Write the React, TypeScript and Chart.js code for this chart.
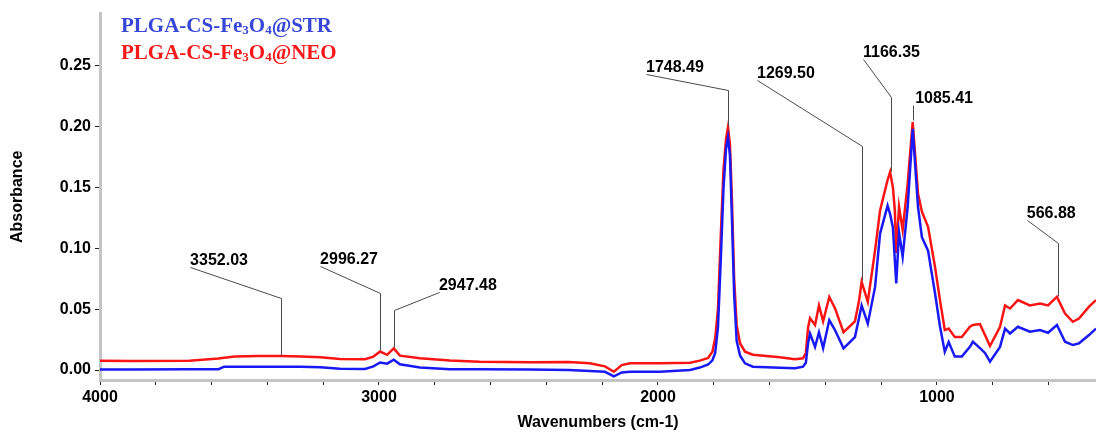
import React, { useEffect, useRef } from "react";
import { Chart, registerables } from "chart.js";

Chart.register(...registerables);

// ---- data ----
const wavenumbers = [
  4000, 3890, 3680, 3575, 3555, 3516, 3430, 3350, 3280, 3210, 3140, 3050, 3020, 2996, 2971, 2947, 2925, 2853,
  2746, 2640, 2460, 2320, 2245, 2190, 2158, 2130, 2100, 1993, 1885, 1850, 1820, 1805, 1795, 1785, 1775, 1765,
  1756, 1749, 1742, 1735, 1727, 1718, 1706, 1688, 1660, 1563, 1509, 1480, 1470, 1462, 1455, 1437, 1423, 1408,
  1386, 1366, 1335, 1294, 1280, 1270, 1248, 1222, 1204, 1177, 1168, 1158, 1151, 1146, 1136, 1123, 1105, 1087,
  1068, 1054, 1032, 1007, 989, 972, 958, 936, 911, 882, 871, 846, 828, 810, 774, 756, 738, 710, 667, 631, 602,
  570, 541, 513, 491, 455, 430,
];

const strAbsorbance = [
  0.0005, 0.0005, 0.0006, 0.0007, 0.0027, 0.0027, 0.0027, 0.0027, 0.0027, 0.0022, 0.001, 0.0008, 0.003, 0.0062,
  0.0052, 0.0085, 0.0047, 0.002, 0.0007, 0.0006, 0.0005, 0.0, -0.0008, -0.0015, -0.0052, -0.002, -0.0014, -0.0014,
  0.0, 0.002, 0.0045, 0.008, 0.014, 0.035, 0.09, 0.15, 0.182, 0.191, 0.176, 0.125, 0.062, 0.024, 0.012, 0.0055,
  0.0027, 0.0019, 0.0014, 0.0027, 0.006, 0.022, 0.03, 0.019, 0.031, 0.018, 0.041, 0.033, 0.0178, 0.027, 0.042,
  0.053, 0.038, 0.068, 0.112, 0.135, 0.128, 0.117, 0.09, 0.071, 0.113, 0.093, 0.134, 0.198, 0.134, 0.109, 0.098,
  0.063, 0.0355, 0.015, 0.023, 0.011, 0.011, 0.019, 0.0232, 0.018, 0.014, 0.0068, 0.019, 0.034, 0.03, 0.0355,
  0.0314, 0.0328, 0.0306, 0.0369, 0.0232, 0.0205, 0.0219, 0.0287, 0.034,
];

const neoAbsorbance = [
  0.0077, 0.0074, 0.0077, 0.0095, 0.01, 0.011, 0.0115, 0.0116, 0.011, 0.0104, 0.009, 0.0088, 0.011, 0.0152,
  0.0125, 0.0178, 0.0118, 0.0096, 0.0078, 0.0068, 0.0064, 0.0065, 0.0055, 0.003, -0.0014, 0.004, 0.0055, 0.0055,
  0.006, 0.0077, 0.01, 0.015, 0.026, 0.05, 0.11, 0.165, 0.19, 0.1995, 0.185, 0.14, 0.075, 0.037, 0.022, 0.015,
  0.0125, 0.0104, 0.0088, 0.0096, 0.014, 0.035, 0.0425, 0.037, 0.053, 0.04, 0.06, 0.051, 0.031, 0.04, 0.056,
  0.0724, 0.056, 0.098, 0.131, 0.156, 0.1626, 0.15, 0.131, 0.096, 0.134, 0.115, 0.153, 0.2035, 0.145, 0.13,
  0.1175, 0.0847, 0.057, 0.0328, 0.034, 0.027, 0.027, 0.0355, 0.037, 0.0377, 0.0287, 0.0197, 0.0355, 0.053,
  0.0505, 0.0574, 0.053, 0.0546, 0.053, 0.06, 0.0464, 0.0396, 0.0423, 0.052, 0.0574,
];

const yTickValues = [0, 0.05, 0.1, 0.15, 0.2, 0.25];
const xTickValues = [4000, 3800, 3600, 3400, 3200, 3000, 2800, 2600, 2400, 2200, 2000, 1800, 1600, 1400, 1200, 1000, 800, 600];
const xLabelValues = [4000, 3000, 2000, 1000];

const peakLabels = ["3352.03", "2996.27", "2947.48", "1748.49", "1269.50", "1166.35", "1085.41", "566.88"];
const peakWavenumbers = [3352.03, 2996.27, 2947.48, 1748.49, 1269.5, 1166.35, 1085.41, 566.88];

const seriesNames = ["PLGA-CS-Fe3O4@STR", "PLGA-CS-Fe3O4@NEO"];

// ---- layout of the annotation leader lines (data units) ----
const leaderLayout = [
  { textWn: 3677, textY: 0.0844, elbowY: 0.059, endY: 0.0123, dx: 0 },
  { textWn: 3211, textY: 0.0852, elbowY: 0.063, endY: 0.0164, dx: 0 },
  { textWn: 2785, textY: 0.064, elbowY: 0.049, endY: 0.0189, dx: 0 },
  { textWn: 2043, textY: 0.2434, elbowY: 0.2295, endY: 0.2, dx: 0 },
  { textWn: 1645, textY: 0.2377, elbowY: 0.1836, endY: 0.0738, dx: 0 },
  { textWn: 1265, textY: 0.255, elbowY: 0.2238, endY: 0.1635, dx: 0 },
  { textWn: 1085.41, textY: 0.2172, elbowY: 0.2172, endY: 0.205, dx: 2 },
  { textWn: 678, textY: 0.123, elbowY: 0.104, endY: 0.0605, dx: 0 },
];

const SANS = "'Liberation Sans', Arial, sans-serif";
const SERIF = "'Liberation Serif', 'Times New Roman', serif";
const BLUE = "rgb(25,25,245)";
const RED = "rgb(250,20,20)";

function drawChemLabel(ctx: CanvasRenderingContext2D, name: string, x: number, y: number, size: number, color: string) {
  // split digits after element symbols into subscripts
  const parts: { t: string; sub: boolean }[] = [];
  const re = /(Fe)(\d)|(O)(\d)/g;
  let last = 0;
  let m: RegExpExecArray | null;
  while ((m = re.exec(name))) {
    const sym = m[1] || m[3];
    const dig = m[2] || m[4];
    parts.push({ t: name.slice(last, m.index) + sym, sub: false });
    parts.push({ t: dig, sub: true });
    last = m.index + m[0].length;
  }
  parts.push({ t: name.slice(last), sub: false });
  ctx.save();
  ctx.fillStyle = color;
  ctx.textBaseline = "alphabetic";
  ctx.textAlign = "left";
  let cx = x;
  for (const p of parts) {
    ctx.font = p.sub ? `bold ${Math.round(size * 0.64)}px ${SERIF}` : `bold ${size}px ${SERIF}`;
    ctx.fillText(p.t, cx, p.sub ? y + size * 0.1 : y);
    cx += ctx.measureText(p.t).width;
  }
  ctx.restore();
}

const overlayPlugin = {
  id: "overlay",
  afterDatasetsDraw(chart: any) {
    const ctx: CanvasRenderingContext2D = chart.ctx;
    const xs = chart.scales.x;
    const ys = chart.scales.y;
    // leader lines + labels
    ctx.save();
    ctx.strokeStyle = "#4a4a4a";
    ctx.lineWidth = 1;
    ctx.fillStyle = "#000";
    ctx.font = `bold 16px ${SANS}`;
    ctx.textBaseline = "alphabetic";
    ctx.textAlign = "left";
    peakLabels.forEach((lab, i) => {
      const L = leaderLayout[i];
      const px = xs.getPixelForValue(peakWavenumbers[i]);
      const sx = xs.getPixelForValue(L.textWn);
      const sy = ys.getPixelForValue(L.textY);
      const ey = ys.getPixelForValue(L.elbowY);
      const by = ys.getPixelForValue(L.endY);
      ctx.beginPath();
      ctx.moveTo(Math.round(sx) + 0.5, Math.round(sy) + 0.5);
      ctx.lineTo(Math.round(px) + 0.5, Math.round(ey) + 0.5);
      ctx.lineTo(Math.round(px) + 0.5, Math.round(by) + 0.5);
      ctx.stroke();
      ctx.fillText(lab, sx + L.dx, sy - 2);
    });
    ctx.restore();
  },
  afterDraw(chart: any) {
    const ctx: CanvasRenderingContext2D = chart.ctx;
    const area = chart.chartArea;
    // axis titles
    ctx.save();
    ctx.fillStyle = "#000";
    ctx.font = `bold 16px ${SANS}`;
    ctx.textAlign = "center";
    ctx.textBaseline = "middle";
    ctx.fillText("Wavenumbers (cm-1)", (area.left + area.right) / 2, 423);
    ctx.translate(18, (area.top + area.bottom) / 2);
    ctx.rotate(-Math.PI / 2);
    ctx.fillText("Absorbance", 0, 0);
    ctx.restore();
    // legend
    drawChemLabel(ctx, seriesNames[0], 121, 32, 21, "rgb(55,70,215)");
    drawChemLabel(ctx, seriesNames[1], 121, 59, 21, "rgb(245,25,25)");
  },
};

export default function App() {
  const ref = useRef<HTMLCanvasElement>(null);
  useEffect(() => {
    if (!ref.current) return;
    const chart = new Chart(ref.current, {
      type: "line",
      data: {
        datasets: [
          {
            label: seriesNames[0],
            data: wavenumbers.map((x, i) => ({ x, y: strAbsorbance[i] })),
            borderColor: BLUE,
            borderWidth: 2.5,
            pointRadius: 0,
            tension: 0,
            fill: false,
          },
          {
            label: seriesNames[1],
            data: wavenumbers.map((x, i) => ({ x, y: neoAbsorbance[i] })),
            borderColor: RED,
            borderWidth: 2.5,
            pointRadius: 0,
            tension: 0,
            fill: false,
          },
        ],
      },
      options: {
        animation: false,
        responsive: false,
        layout: { padding: { top: 13, left: 0, right: 0, bottom: 0 } },
        plugins: { legend: { display: false }, tooltip: { enabled: false } },
        scales: {
          x: {
            type: "linear",
            reverse: true,
            min: 430,
            max: 4000,
            afterBuildTicks: (s: any) => {
              s.ticks = xTickValues.map((v) => ({ value: v }));
            },
            afterFit: (s: any) => {
              s.height = 52;
            },
            ticks: {
              autoSkip: false,
              maxRotation: 0,
              padding: 3,
              color: "#000",
              font: { family: SANS, size: 16, weight: "bold" },
              callback: (v: any) => (xLabelValues.includes(Number(v)) ? String(v) : ""),
            },
            grid: { drawOnChartArea: false, drawTicks: true, tickLength: 5, tickColor: "#222", tickWidth: 1 },
            border: { color: "#c4c4c4", width: 3 },
          },
          y: {
            type: "linear",
            min: -0.0082,
            max: 0.2926,
            afterBuildTicks: (s: any) => {
              s.ticks = yTickValues.map((v) => ({ value: v }));
            },
            afterFit: (s: any) => {
              s.width = 100;
            },
            ticks: {
              padding: 4,
              color: "#000",
              font: { family: SANS, size: 16, weight: "bold" },
              callback: (v: any) => Number(v).toFixed(2),
            },
            grid: { drawOnChartArea: false, drawTicks: true, tickLength: 5, tickColor: "#222", tickWidth: 1 },
            border: { color: "#c4c4c4", width: 3 },
          },
        },
      },
      plugins: [overlayPlugin],
    } as any);
    return () => chart.destroy();
  }, []);
  return (
    <div style={{ position: "fixed", left: 0, top: 0, width: 1096, height: 432, background: "#fff" }}>
      <canvas ref={ref} width={1096} height={432} style={{ display: "block" }} />
    </div>
  );
}
